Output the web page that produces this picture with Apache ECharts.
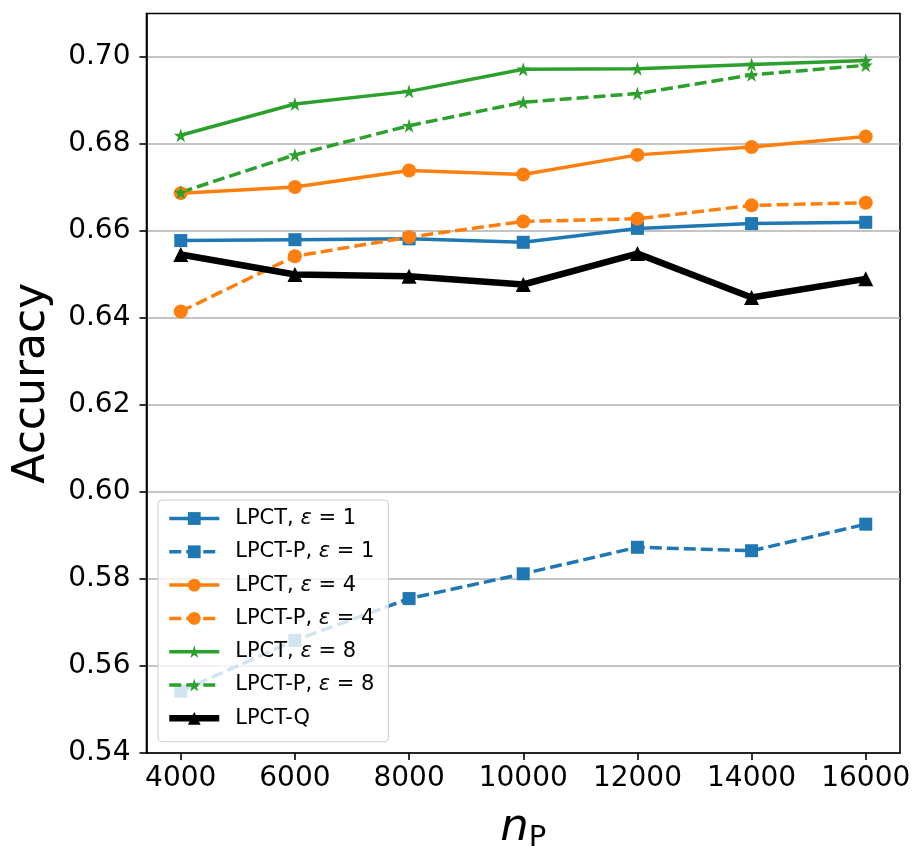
<!DOCTYPE html>
<html>
<head>
<meta charset="utf-8">
<script src="https://cdn.jsdelivr.net/npm/echarts@6/dist/echarts.min.js"></script>
<style>
  html, body { margin: 0; padding: 0; background: #fff; }
  #main { width: 920px; height: 862px; }
</style>
</head>
<body>
<div id="main"></div>
<script>
// x values (n_P) and accuracy per method
var nP = [4000, 6000, 8000, 10000, 12000, 14000, 16000];
var lpct1  = [0.6578, 0.6580, 0.6582, 0.6574, 0.6606, 0.6617, 0.6620];
var lpctP1 = [0.5542, 0.5659, 0.5755, 0.5812, 0.5873, 0.5865, 0.5926];
var lpct4  = [0.6687, 0.6701, 0.6739, 0.6730, 0.6775, 0.6793, 0.6817];
var lpctP4 = [0.6415, 0.6542, 0.6586, 0.6622, 0.6628, 0.6659, 0.6665];
var lpct8  = [0.6820, 0.6892, 0.6921, 0.6972, 0.6973, 0.6983, 0.6992];
var lpctP8 = [0.6689, 0.6775, 0.6842, 0.6896, 0.6916, 0.6959, 0.6981];
var lpctQ  = [0.6546, 0.6500, 0.6496, 0.6477, 0.6548, 0.6447, 0.6490];
var yTicks = [0.54, 0.56, 0.58, 0.60, 0.62, 0.64, 0.66, 0.68, 0.70];

var blue = '#1f77b4', orange = '#ff7f0e', green = '#2ca02c';
var star = 'path://M50 0 L61.23 34.55 L97.55 34.55 L68.16 55.9 L79.39 90.45 L50 69.1 L20.61 90.45 L31.84 55.9 L2.45 34.55 L38.77 34.55 Z';
var font = 'DejaVu Sans';

function pts(ys) {
  return nP.map(function (x, i) { return [x, ys[i]]; });
}

function mk(name, ys, color, symbol, size, dashed, width) {
  return {
    name: name,
    type: 'line',
    data: pts(ys),
    symbol: symbol,
    symbolSize: size,
    showSymbol: true,
    animation: false,
    lineStyle: { color: color, width: width || 3.5, type: dashed ? [12, 5] : 'solid' },
    itemStyle: { color: color, borderColor: color, borderWidth: 0 },
    emphasis: { disabled: true }
  };
}

var chart = echarts.init(document.getElementById('main'));

var option = {
  backgroundColor: '#fff',
  animation: false,
  grid: {
    left: 146.5, right: 20, top: 13.5, bottom: 109,
    show: true, borderColor: '#000', borderWidth: 1.6, backgroundColor: 'transparent'
  },
  legend: {
    orient: 'vertical',
    left: 158, top: 500,
    padding: [8, 14, 13, 8],
    itemGap: 12.3,
    itemWidth: 50,
    itemHeight: 16,
    backgroundColor: 'rgba(255,255,255,0.8)',
    borderColor: '#cccccc',
    borderWidth: 1,
    borderRadius: 4,
    z: 10,
    lineStyle: { width: 'inherit' },
    formatter: function (name) {
      return name.replace('ε', '{e|ε}');
    },
    textStyle: {
      fontFamily: font, fontSize: 21, color: '#000', lineHeight: 21,
      padding: [0, 0, 0, 11],
      rich: { e: { fontFamily: font, fontSize: 21, fontStyle: 'italic', color: '#000' } }
    }
  },
  xAxis: {
    type: 'value',
    min: 3400, max: 16600,
    name: '{n|n}{p|P}',
    nameLocation: 'middle',
    nameGap: 50,
    nameTextStyle: {
      rich: {
        n: { fontFamily: font, fontSize: 45, fontStyle: 'italic', color: '#000', lineHeight: 50 },
        p: { fontFamily: font, fontSize: 29, color: '#000', lineHeight: 22, verticalAlign: 'bottom' }
      }
    },
    axisLine: { show: true, lineStyle: { color: '#000', width: 1.6 } },
    axisTick: { show: true, length: 7, inside: false, lineStyle: { color: '#000', width: 1.6 }, customValues: nP },
    axisLabel: {
      customValues: nP, fontFamily: font, fontSize: 28, color: '#000', margin: 12,
      formatter: function (v) { return String(v); }
    },
    splitLine: { show: false }
  },
  yAxis: {
    type: 'value',
    min: 0.54, max: 0.71, interval: 0.02,
    name: 'Accuracy',
    nameLocation: 'middle',
    nameRotate: 90,
    nameGap: 92,
    nameTextStyle: { fontFamily: font, fontSize: 44, color: '#000' },
    axisLine: { show: true, lineStyle: { color: '#000', width: 1.6 } },
    axisTick: { show: true, length: 7, inside: false, lineStyle: { color: '#000', width: 1.6 }, customValues: yTicks },
    axisLabel: {
      customValues: yTicks, fontFamily: font, fontSize: 28, color: '#000', margin: 16,
      formatter: function (v) { return v.toFixed(2); }
    },
    splitLine: { show: true, lineStyle: { color: '#b0b0b0', width: 1.6 } }
  },
  series: [
    mk('LPCT, ε = 1', lpct1, blue, 'rect', 13, false),
    mk('LPCT-P, ε = 1', lpctP1, blue, 'rect', 13, true),
    mk('LPCT, ε = 4', lpct4, orange, 'circle', 14, false),
    mk('LPCT-P, ε = 4', lpctP4, orange, 'circle', 14, true),
    mk('LPCT, ε = 8', lpct8, green, star, 14, false),
    mk('LPCT-P, ε = 8', lpctP8, green, star, 14, true),
    mk('LPCT-Q', lpctQ, '#000', 'triangle', 15, false, 6.5)
  ]
};

option && chart.setOption(option);
</script>
</body>
</html>
